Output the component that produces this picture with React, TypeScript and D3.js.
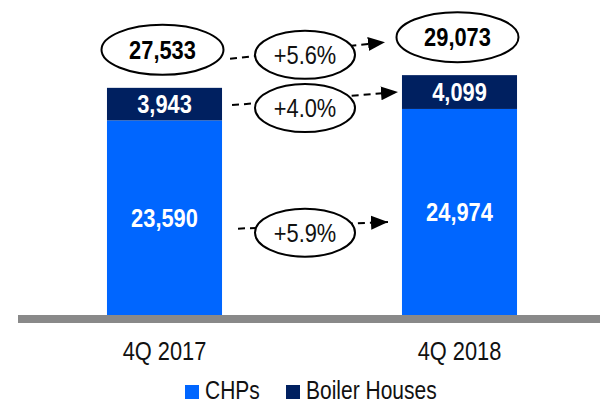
import React from "react";
import * as d3 from "d3";

const categories = ["4Q 2017", "4Q 2018"];
const chps = [23590, 24974];
const boilers = [3943, 4099];
const totals = [27533, 29073];
const growthLabels = ["+5.6%", "+4.0%", "+5.9%"];
const seriesNames = ["CHPs", "Boiler Houses"];
const colors = ["#0066ff", "#002060"];

const fmt = d3.format(",");
const font = "'Liberation Sans', Arial, sans-serif";

const width = 600;
const height = 404;
const baseY = 315;

// narrow text: Liberation Sans squeezed to look like Arial Narrow
const T = ({ x, y, anchor = "middle", fill = "#111", bold = false, size = 26, children }: any) => (
  <text transform={`translate(${x},${y}) scale(0.84,1)`} textAnchor={anchor} fill={fill}
    fontWeight={bold ? "bold" : "normal"} fontSize={size}>{children}</text>
);

const App = () => {
  const x = d3.scaleBand<string>()
    .domain(categories)
    .range([17, 607])
    .paddingInner(0.61)
    .paddingOuter(0.305);

  const y = d3.scaleLinear().domain([0, 38180]).range([baseY, 0]);

  const bw = x.bandwidth();
  const cx = (i: number) => (x(categories[i]) as number) + bw / 2;
  const left = x(categories[0]) as number;
  const right = x(categories[1]) as number;
  const midX = (left + bw + right) / 2 - 7;

  // arrows: total, boiler, chp segments (left point -> right point)
  const arrows = [
    { y0: y(totals[0]) - 29, y1: y(totals[1]) - 33, x0: left + bw + 8, x1: right - 17 },
    { y0: (y(totals[0]) + y(chps[0])) / 2 + 1, y1: (y(totals[1]) + y(chps[1])) / 2, x0: left + bw + 10, x1: right - 4 },
    { y0: (y(chps[0]) + y(0)) / 2 + 11, y1: (y(chps[1]) + y(0)) / 2 + 10, x0: left + bw + 16, x1: right - 14 },
  ];
  const growthY = [y(totals[0]) - 33, (y(totals[0]) + y(chps[0])) / 2 + 4, (y(chps[0]) + y(0)) / 2 + 15];

  return (
    <svg width={width} height={height} style={{ position: "absolute", left: 0, top: 0 }} fontFamily={font}>
      <defs>
        <marker id="head" markerUnits="userSpaceOnUse" markerWidth={17} markerHeight={16}
          viewBox="0 0 17 16" refX={17} refY={8} orient="auto">
          <path d="M0,1 L17,8 L0,15 Z" fill="#000" />
        </marker>
      </defs>

      {categories.map((c, i) => {
        const x0 = x(c) as number;
        return (
          <g key={c}>
            <rect x={x0} y={y(chps[i])} width={bw} height={y(0) - y(chps[i])} fill={colors[0]} />
            <rect x={x0} y={y(totals[i])} width={bw} height={y(chps[i]) - y(totals[i])} fill={colors[1]} />
            <T x={cx(i)} y={(y(chps[i]) + y(0)) / 2 + 9} fill="#fff" bold>{fmt(chps[i])}</T>
            <T x={cx(i)} y={(y(totals[i]) + y(chps[i])) / 2 + 9} fill="#fff" bold>{fmt(boilers[i])}</T>
            <T x={cx(i)} y={360}>{c}</T>
          </g>
        );
      })}

      <rect x={18} y={baseY} width={width - 18} height={8} fill="#898989" />

      {arrows.map((a, i) => (
        <line key={i} x1={a.x0} y1={a.y0} x2={a.x1} y2={a.y1} stroke="#000" strokeWidth={2}
          strokeDasharray="7,5" markerEnd="url(#head)" />
      ))}

      {growthLabels.map((g, i) => (
        <g key={g}>
          <ellipse cx={midX} cy={growthY[i]} rx={50} ry={24} fill="#fff" stroke="#000" strokeWidth={2} />
          <T x={midX} y={growthY[i] + 9}>{g}</T>
        </g>
      ))}

      {totals.map((t, i) => {
        const ey = y(t) - 38;
        return (
          <g key={t}>
            <ellipse cx={cx(i) - 2} cy={ey} rx={61} ry={25} fill="#fff" stroke="#000" strokeWidth={2} />
            <T x={cx(i) - 2} y={ey + 9} fill="#000" bold>{fmt(t)}</T>
          </g>
        );
      })}

      {seriesNames.map((s, i) => {
        const lx = i === 0 ? 185 : 286;
        return (
          <g key={s}>
            <rect x={lx} y={385} width={14} height={14} fill={colors[i]} />
            <T x={lx + 20} y={399} anchor="start" size={25}>{s}</T>
          </g>
        );
      })}
    </svg>
  );
};

export default App;
